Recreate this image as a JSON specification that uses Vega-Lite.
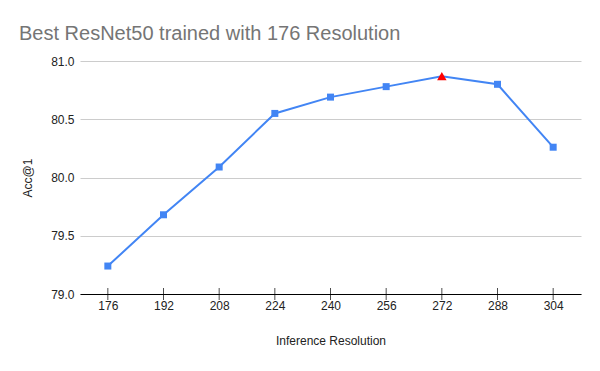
{
  "$schema": "https://vega.github.io/schema/vega-lite/v6.json",
  "autosize": "none",
  "width": 501,
  "height": 233,
  "padding": {"left": 80, "top": 61, "right": 19, "bottom": 77},
  "background": "white",
  "config": {"view": {"stroke": null}, "font": "Liberation Sans"},
  "title": {
    "text": "Best ResNet50 trained with 176 Resolution",
    "anchor": "start",
    "frame": "group",
    "dx": -61,
    "offset": 11,
    "fontSize": 20,
    "fontWeight": "normal",
    "color": "#757575",
    "font": "Liberation Sans"
  },
  "data": {
    "values": [
      {"res": "176", "acc": 79.24, "best": "no"},
      {"res": "192", "acc": 79.68, "best": "no"},
      {"res": "208", "acc": 80.09, "best": "no"},
      {"res": "224", "acc": 80.55, "best": "no"},
      {"res": "240", "acc": 80.69, "best": "no"},
      {"res": "256", "acc": 80.78, "best": "no"},
      {"res": "272", "acc": 80.87, "best": "yes"},
      {"res": "288", "acc": 80.80, "best": "no"},
      {"res": "304", "acc": 80.26, "best": "no"}
    ]
  },
  "encoding": {
    "x": {
      "field": "res",
      "type": "ordinal",
      "sort": null,
      "scale": {"type": "point", "padding": 0.5},
      "axis": {
        "title": "Inference Resolution",
        "titleFontSize": 12,
        "titleFontWeight": "normal",
        "titleColor": "#222222",
        "titlePadding": 24,
        "labelAngle": 0,
        "labelFontSize": 12,
        "labelColor": "#222222",
        "labelPadding": 6,
        "domainColor": "#000000",
        "domainWidth": 1,
        "ticks": false,
        "grid": false
      }
    },
    "y": {
      "field": "acc",
      "type": "quantitative",
      "scale": {"domain": [79, 81], "nice": false, "zero": false},
      "axis": {
        "title": "Acc@1",
        "titleFontSize": 12,
        "titleFontWeight": "normal",
        "titleColor": "#222222",
        "titlePadding": 16,
        "values": [79, 79.5, 80, 80.5, 81],
        "format": ".1f",
        "labelFontSize": 12,
        "labelColor": "#222222",
        "labelPadding": 6,
        "domain": false,
        "ticks": false,
        "gridColor": "#cccccc",
        "gridWidth": 1
      }
    }
  },
  "layer": [
    {
      "mark": {"type": "line", "color": "#4285F4", "strokeWidth": 2}
    },
    {
      "mark": {"type": "tick", "orient": "vertical", "color": "#000000", "thickness": 1, "size": 12},
      "encoding": {
        "y": {"datum": 79}
      }
    },
    {
      "mark": {"type": "point", "filled": true, "opacity": 1},
      "encoding": {
        "shape": {
          "field": "best",
          "type": "nominal",
          "scale": {"domain": ["no", "yes"], "range": ["square", "triangle-up"]},
          "legend": null
        },
        "color": {
          "field": "best",
          "type": "nominal",
          "scale": {"domain": ["no", "yes"], "range": ["#4285F4", "#FF0000"]},
          "legend": null
        },
        "size": {
          "field": "best",
          "type": "nominal",
          "scale": {"domain": ["no", "yes"], "range": [49, 90]},
          "legend": null
        }
      }
    }
  ]
}
